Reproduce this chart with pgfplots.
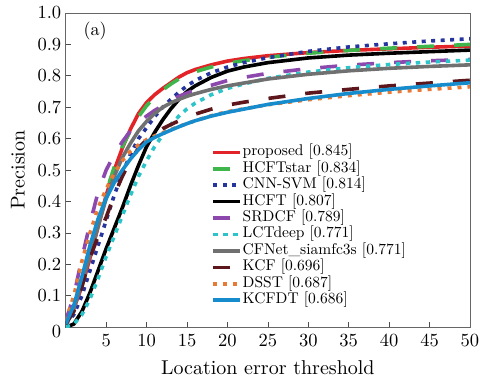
\documentclass[border=0pt]{standalone}
\usepackage{pgfplots}
\pgfplotsset{compat=1.18}
\usepackage{pgfplotstable}
\DeclareFontShape{TU}{lmr}{m}{n}{<-> \UnicodeFontFile{lmroman10-regular}{\UnicodeFontTeXLigatures}}{}
\definecolor{cRed}{RGB}{226,36,40}
\definecolor{cGreen}{RGB}{62,182,76}
\definecolor{cNavy}{RGB}{38,52,158}
\definecolor{cPurple}{RGB}{140,72,172}
\definecolor{cCyan}{RGB}{44,196,200}
\definecolor{cGray}{RGB}{112,112,112}
\definecolor{cMaroon}{RGB}{92,22,28}
\definecolor{cOrange}{RGB}{232,122,54}
\definecolor{cBlue}{RGB}{22,140,204}
\pgfplotstableread{
x  p     h     c     hc    s     l     cf    k     d     kd
0  0.010 0.010 0.010 0.000 0.020 0.000 0.010 0.010 0.020 0.010
1  0.060 0.060 0.040 0.010 0.100 0.010 0.060 0.050 0.100 0.070
2  0.130 0.130 0.100 0.050 0.220 0.040 0.140 0.130 0.210 0.160
3  0.220 0.220 0.180 0.110 0.330 0.090 0.230 0.220 0.300 0.260
4  0.320 0.320 0.260 0.180 0.430 0.155 0.320 0.290 0.380 0.345
5  0.420 0.430 0.340 0.250 0.500 0.225 0.410 0.350 0.440 0.410
6  0.500 0.510 0.420 0.315 0.550 0.290 0.480 0.420 0.490 0.460
7  0.570 0.575 0.490 0.380 0.590 0.355 0.540 0.480 0.530 0.500
8  0.630 0.625 0.550 0.450 0.625 0.420 0.585 0.530 0.560 0.535
9  0.680 0.670 0.600 0.515 0.650 0.480 0.625 0.570 0.580 0.565
10 0.715 0.705 0.635 0.575 0.672 0.530 0.655 0.597 0.597 0.590
11 0.740 0.732 0.670 0.620 0.690 0.575 0.680 0.615 0.609 0.604
12 0.760 0.755 0.700 0.660 0.705 0.612 0.700 0.632 0.619 0.616
13 0.778 0.774 0.725 0.695 0.720 0.645 0.714 0.645 0.629 0.627
14 0.796 0.790 0.748 0.725 0.735 0.672 0.725 0.657 0.639 0.638
15 0.810 0.803 0.768 0.750 0.745 0.695 0.735 0.668 0.648 0.648
16 0.820 0.813 0.785 0.768 0.755 0.713 0.743 0.678 0.657 0.657
18 0.835 0.828 0.810 0.795 0.770 0.740 0.757 0.694 0.673 0.672
20 0.847 0.840 0.828 0.815 0.785 0.760 0.768 0.707 0.686 0.684
22 0.855 0.848 0.842 0.828 0.795 0.774 0.777 0.716 0.695 0.694
25 0.864 0.859 0.858 0.842 0.808 0.792 0.790 0.728 0.708 0.709
30 0.874 0.872 0.878 0.857 0.823 0.812 0.805 0.745 0.724 0.728
35 0.881 0.881 0.892 0.866 0.834 0.826 0.816 0.757 0.737 0.744
40 0.886 0.888 0.902 0.872 0.842 0.836 0.824 0.768 0.748 0.757
45 0.891 0.894 0.911 0.877 0.848 0.844 0.830 0.777 0.757 0.768
50 0.895 0.900 0.918 0.882 0.852 0.850 0.835 0.786 0.765 0.778
}\datatab
\begin{document}
\begin{tikzpicture}
\begin{axis}[name=ax,
  scale only axis, width=404pt, height=314pt,
  xmin=0, xmax=50, ymin=0, ymax=1,
  /pgf/number format/assume math mode=true,
  xtick={5,10,...,50},
  ytick={0,0.1,0.2,0.3,0.4,0.5,0.6,0.7,0.8,0.9,1.0},
  yticklabels={\raisebox{-10pt}[0pt][0pt]{0},0.1,0.2,0.3,0.4,0.5,0.6,0.7,0.8,0.9,1.0},
  tick align=inside, tick pos=left, major tick length=5pt,
  axis line style={draw=black!60, line width=0.9pt},
  every tick/.style={black!70, line width=0.7pt},
  tick label style={font=\fontsize{18.5}{20}\selectfont},
  yticklabel style={xshift=-1pt},
  xticklabel style={yshift=-3pt},
  legend style={at={(rel axis cs:0.36,0.583)}, anchor=north west, draw=none, fill=none,
    inner sep=0pt, row sep=0pt,
    font=\fontsize{15.5}{16}\selectfont,
    nodes={inner sep=0.6pt, text height=11pt, text depth=4.2pt, anchor=west}},
  legend cell align=left,
  legend image code/.code={\draw[#1] (0pt,0pt) -- (27pt,0pt);},
  every axis plot/.append style={line width=3.6pt, line join=round},
]
\addplot[cRed] table[x=x,y=p] {\datatab};
\addlegendentry{proposed [0.845]}
\addplot[cGreen, dash pattern=on 17pt off 20pt] table[x=x,y=h] {\datatab};
\addlegendentry{HCFTstar [0.834]}
\addplot[cNavy, dash pattern=on 4pt off 5.5pt] table[x=x,y=c] {\datatab};
\addlegendentry{CNN-SVM [0.814]}
\addplot[black] table[x=x,y=hc] {\datatab};
\addlegendentry{HCFT [0.807]}
\addplot[cPurple, dash pattern=on 17pt off 20pt] table[x=x,y=s] {\datatab};
\addlegendentry{SRDCF [0.789]}
\addplot[cCyan, dash pattern=on 4.5pt off 5.5pt] table[x=x,y=l] {\datatab};
\addlegendentry{LCTdeep [0.771]}
\addplot[cGray] table[x=x,y=cf] {\datatab};
\addlegendentry{CFNet\_siamfc3s [0.771]}
\addplot[cMaroon, dash pattern=on 17pt off 20pt] table[x=x,y=k] {\datatab};
\addlegendentry{KCF [0.696]}
\addplot[cOrange, dash pattern=on 4pt off 6pt] table[x=x,y=d] {\datatab};
\addlegendentry{DSST [0.687]}
\addplot[cBlue] table[x=x,y=kd] {\datatab};
\addlegendentry{KCFDT [0.686]}
\end{axis}
\node[font=\fontsize{18}{21}\selectfont] at ([shift={(29.3pt,-18pt)}]ax.north west) {(a)};
\node[font=\fontsize{20}{24}\selectfont, anchor=base] at ([yshift=-47pt]ax.south) {Location error threshold};
\node[font=\fontsize{20}{24}\selectfont, anchor=base, rotate=90] at ([xshift=-41pt]ax.west) {Precision};
\pgfresetboundingbox
\path[use as bounding box] ([shift={(-65.7pt,-53.3pt)}]ax.south west) rectangle ([shift={(10pt,13pt)}]ax.north east);
\end{tikzpicture}
\end{document}
